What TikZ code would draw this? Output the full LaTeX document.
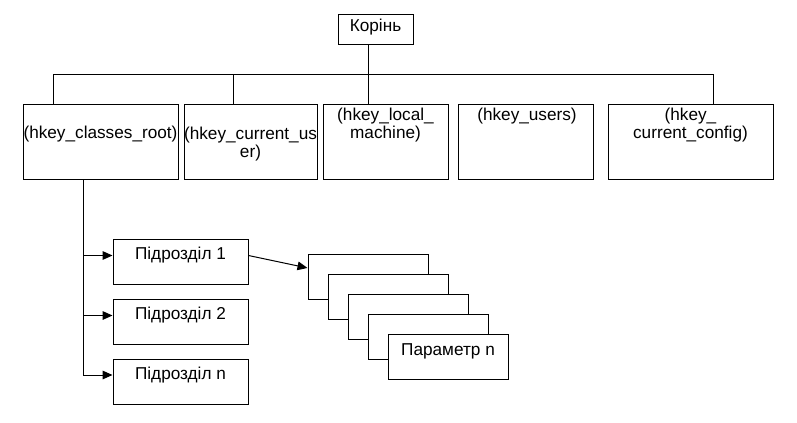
\documentclass[tikz,border=0pt]{standalone}
\usepackage{fontspec}
\setmainfont{Liberation Sans}
\usetikzlibrary{arrows.meta}
\newcommand{\pxu}{0.75pt}

\begin{document}
\begin{tikzpicture}[
			x=0.75pt, y=-0.75pt,
			keybox/.style={draw, line width=0.75pt, inner sep=0pt, fill=white},
			keytext/.style={inner sep=0pt, align=center, font=\fontsize{12.9}{14}\selectfont},
			arr/.style={line width=0.75pt, -{Triangle[length=7.5pt,width=6.5pt]}}
		]
		\useasboundingbox (0,0) rectangle (797,422);
		\node[keybox, minimum width=75*\pxu, minimum height=30*\pxu] (root) at (375.5,29) {};
		\node[keybox, minimum width=155*\pxu, minimum height=75*\pxu] (hcr) at (100.5,141.5) {};
		\node[keybox, minimum width=133*\pxu, minimum height=75*\pxu] (hcu) at (250.5,141.5) {};
		\node[keybox, minimum width=125*\pxu, minimum height=75*\pxu] (hlm) at (385.5,141.5) {};
		\node[keybox, minimum width=135*\pxu, minimum height=75*\pxu] (hu) at (525.5,141.5) {};
		\node[keybox, minimum width=165*\pxu, minimum height=75*\pxu] (hcc) at (690.5,141.5) {};
		\node[keytext] (roott) at (375.5,27) {Корінь};
		\node[keytext] (hcrt) at (100.5,134) {(hkey\_classes\_root)};
		\node[keytext] (hcut) at (250.5,144) {(hkey\_current\_us\\er)};
		\node[keytext] (hlmt) at (385.5,125) {(hkey\_local\_\\machine)};
		\node[keytext] (hut) at (527,116) {(hkey\_users)};
		\node[keytext] (hcct) at (690.5,125) {(hkey\_\\current\_config)};
		\coordinate (busl) at (53,74);
		\coordinate (bus2) at (233,74);
		\coordinate (bus3) at (368,74);
		\coordinate (busr) at (713,74);
		\draw[line width=0.75pt] (busl) -- (busr);
		\draw[line width=0.75pt] (busl) -- (hcr.north -| busl);
		\draw[line width=0.75pt] (bus2) -- (hcu.north -| bus2);
		\draw[line width=0.75pt] (root.south -| bus3) -- (hlm.north -| bus3);
		\draw[line width=0.75pt] (busr) -- (hcc.north -| busr);
		\node[keybox, minimum width=135*\pxu, minimum height=45*\pxu] (sub1) at (180.5,261.5) {};
		\node[keybox, minimum width=135*\pxu, minimum height=45*\pxu] (sub2) at (180.5,321.5) {};
		\node[keybox, minimum width=135*\pxu, minimum height=45*\pxu] (subn) at (180.5,381.5) {};
		\node[keytext] (sub1t) at (180.5,255.5) {Підрозділ 1};
		\node[keytext] (sub2t) at (180.5,315.5) {Підрозділ 2};
		\node[keytext] (subnt) at (180.5,375) {Підрозділ n};
		\coordinate (trunk) at (83,0);
		\draw[line width=0.75pt] (hcr.south -| trunk) -- (subnt -| trunk);
		\draw[arr] (sub1t -| trunk) -- (sub1t -| sub1.west);
		\draw[arr] (sub2t -| trunk) -- (sub2t -| sub2.west);
		\draw[arr] (subnt -| trunk) -- (subnt -| subn.west);
		\node[keybox, minimum width=120*\pxu, minimum height=45*\pxu] (para) at (368,276.5) {};
		\node[keybox, minimum width=120*\pxu, minimum height=45*\pxu] (parb) at (388,296.5) {};
		\node[keybox, minimum width=120*\pxu, minimum height=45*\pxu] (parc) at (408,316.5) {};
		\node[keybox, minimum width=120*\pxu, minimum height=45*\pxu] (pard) at (428,336.5) {};
		\node[keybox, minimum width=120*\pxu, minimum height=45*\pxu] (pare) at (448,356.5) {};
		\node[keytext] (paret) at (448,351) {Параметр n};
		\draw[arr] (sub1t -| sub1.east) -- ([yshift=6.4pt]para.west);
	\end{tikzpicture}
\end{document}
